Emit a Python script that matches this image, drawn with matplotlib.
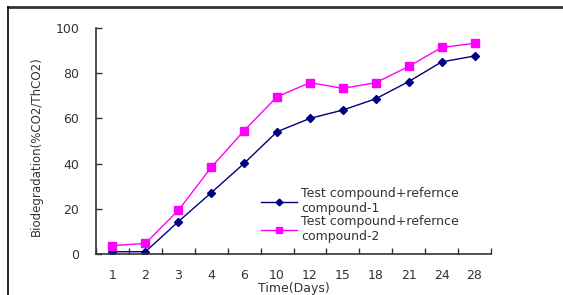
import matplotlib
matplotlib.use('Agg')
import matplotlib.pyplot as plt
from matplotlib.lines import Line2D

days = ['1', '2', '3', '4', '6', '10', '12', '15', '18', '21', '24', '28']
mix_1 = [1, 1, 14.3, 27.1, 40.1, 54.1, 60, 63.7, 68.7, 76.3, 85, 87.6]
mix_2 = [3.7, 4.7, 19.3, 38.3, 54.6, 69.6, 75.8, 73.3, 75.8, 83, 91.4, 93.2]
labels = ['Test compound+refernce\ncompound-1', 'Test compound+refernce\ncompound-2']

W, H = 563, 295
fig = plt.figure(figsize=(W/100., H/100.), dpi=100)
ax = fig.add_axes([96./W, 1-254./H, 395./W, 226./H])

x = range(len(days))
ax.plot(x, mix_1, '-D', c='#000080', lw=1, ms=4.3, label=labels[0])
ax.plot(x, mix_2, '-s', c='#ff00ff', lw=1, ms=5.5, label=labels[1])

ax.set_xlim(-0.5, len(days)-0.5)
ax.set_ylim(0, 100)
ax.set_xticks(list(x))
ax.set_xticklabels(days)
ax.set_xticks([i-0.5 for i in range(len(days)+1)], minor=True)
ax.set_yticks(range(0, 101, 20))
ax.tick_params(axis='x', which='major', length=0, pad=11, labelsize=9, colors='#333333')
ax.tick_params(axis='x', which='minor', direction='in', length=4, width=1, color='#333333')
ax.tick_params(axis='y', direction='in', length=4, width=1, pad=12, labelsize=9, colors='#333333')
for s in ['top', 'right']:
    ax.spines[s].set_visible(False)
for s in ['left', 'bottom']:
    ax.spines[s].set_color('#333333')
    ax.spines[s].set_linewidth(1.2)

ax.set_xlabel('Time(Days)', fontsize=9, color='#333333')
ax.xaxis.set_label_coords(0.5, -0.125)
ax.set_ylabel('Biodegradation(%CO2/ThCO2)', fontsize=8.5, color='#333333')
ax.yaxis.set_label_coords(-0.134, 0.476)

ax.legend(loc='upper left', bbox_to_anchor=(0.418, 0.295), frameon=False,
          fontsize=9, handlelength=2.9, handletextpad=0.3, borderpad=0,
          labelspacing=0.0, borderaxespad=0, labelcolor='#333333', markerscale=0.8)

# outer frame (top and left edges)
fig.add_artist(Line2D([8./W, 1], [1-6.5/H, 1-6.5/H], color='#333333', lw=2))
fig.add_artist(Line2D([8./W, 8./W], [0, 1-6.5/H], color='black', lw=1.2))

plt.savefig('out.png', dpi=100)
